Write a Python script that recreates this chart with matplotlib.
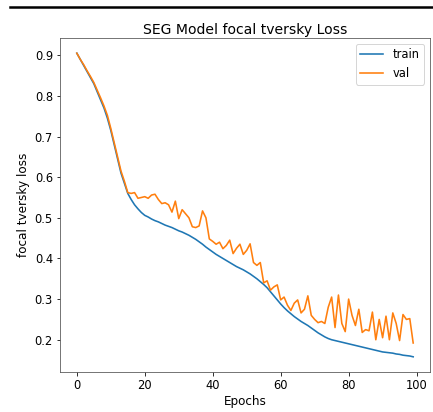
import matplotlib
matplotlib.use("Agg")
import matplotlib.pyplot as plt
from matplotlib.lines import Line2D

epochs = list(range(100))
train = [0.905, 0.89, 0.875, 0.86, 0.845, 0.83, 0.81, 0.79, 0.77, 0.745,
         0.715, 0.68, 0.645, 0.61, 0.585, 0.56, 0.545, 0.532, 0.522, 0.513,
         0.506, 0.502, 0.497, 0.493, 0.49, 0.486, 0.482, 0.479, 0.476, 0.472,
         0.468, 0.465, 0.461, 0.457, 0.452, 0.447, 0.441, 0.435, 0.428, 0.422,
         0.416, 0.41, 0.405, 0.4, 0.395, 0.39, 0.385, 0.38, 0.376, 0.372,
         0.367, 0.362, 0.356, 0.35, 0.343, 0.336, 0.328, 0.318, 0.308, 0.298,
         0.288, 0.279, 0.271, 0.264, 0.257, 0.251, 0.245, 0.24, 0.235, 0.229,
         0.223, 0.217, 0.212, 0.207, 0.203, 0.2, 0.198, 0.196, 0.194, 0.192,
         0.19, 0.188, 0.186, 0.184, 0.182, 0.18, 0.178, 0.176, 0.174, 0.172,
         0.17, 0.169, 0.168, 0.167, 0.165, 0.164, 0.162, 0.161, 0.16, 0.158]
val = [0.905, 0.89, 0.877, 0.862, 0.848, 0.833, 0.814, 0.795, 0.775, 0.752,
       0.72, 0.685, 0.65, 0.615, 0.59, 0.562, 0.56, 0.562, 0.548, 0.55,
       0.552, 0.548, 0.556, 0.558, 0.545, 0.535, 0.537, 0.532, 0.514, 0.541,
       0.498, 0.52, 0.51, 0.5, 0.478, 0.476, 0.48, 0.517, 0.5, 0.448,
       0.442, 0.435, 0.44, 0.424, 0.432, 0.445, 0.412, 0.425, 0.435, 0.41,
       0.42, 0.436, 0.39, 0.383, 0.39, 0.34, 0.345, 0.322, 0.33, 0.335,
       0.298, 0.305, 0.285, 0.272, 0.29, 0.298, 0.266, 0.275, 0.308, 0.26,
       0.25, 0.242, 0.245, 0.24, 0.28, 0.305, 0.23, 0.31, 0.24, 0.22,
       0.3, 0.26, 0.235, 0.275, 0.218, 0.225, 0.222, 0.268, 0.2, 0.25,
       0.205, 0.258, 0.2, 0.266, 0.24, 0.198, 0.262, 0.25, 0.252, 0.192]

plt.rcParams['font.size'] = 12
fig = plt.figure(figsize=(433 / 72, 412 / 72), dpi=72)
ax = fig.add_axes([60 / 433, 1 - 372 / 412, 370 / 433, 334 / 412])
ax.plot(epochs, train, color="#1f77b4", label="train", linewidth=1.6)
ax.plot(epochs, val, color="#ff7f0e", label="val", linewidth=1.6)
ax.set_title("SEG Model focal tversky Loss", fontsize=14, pad=4)
ax.set_xlabel("Epochs", fontsize=12, labelpad=3)
ax.set_ylabel("focal tversky loss", fontsize=12, labelpad=5)
ax.tick_params(labelsize=11.5)
for s in ax.spines.values():
    s.set_color("#555555")
ax.legend(loc="upper right", fontsize=11.5)

fig.add_artist(Line2D([10 / 433, 1.0], [1 - 7 / 412, 1 - 7 / 412],
                      transform=fig.transFigure, color="black", linewidth=2.5))

fig.savefig("out.png", dpi=72)
